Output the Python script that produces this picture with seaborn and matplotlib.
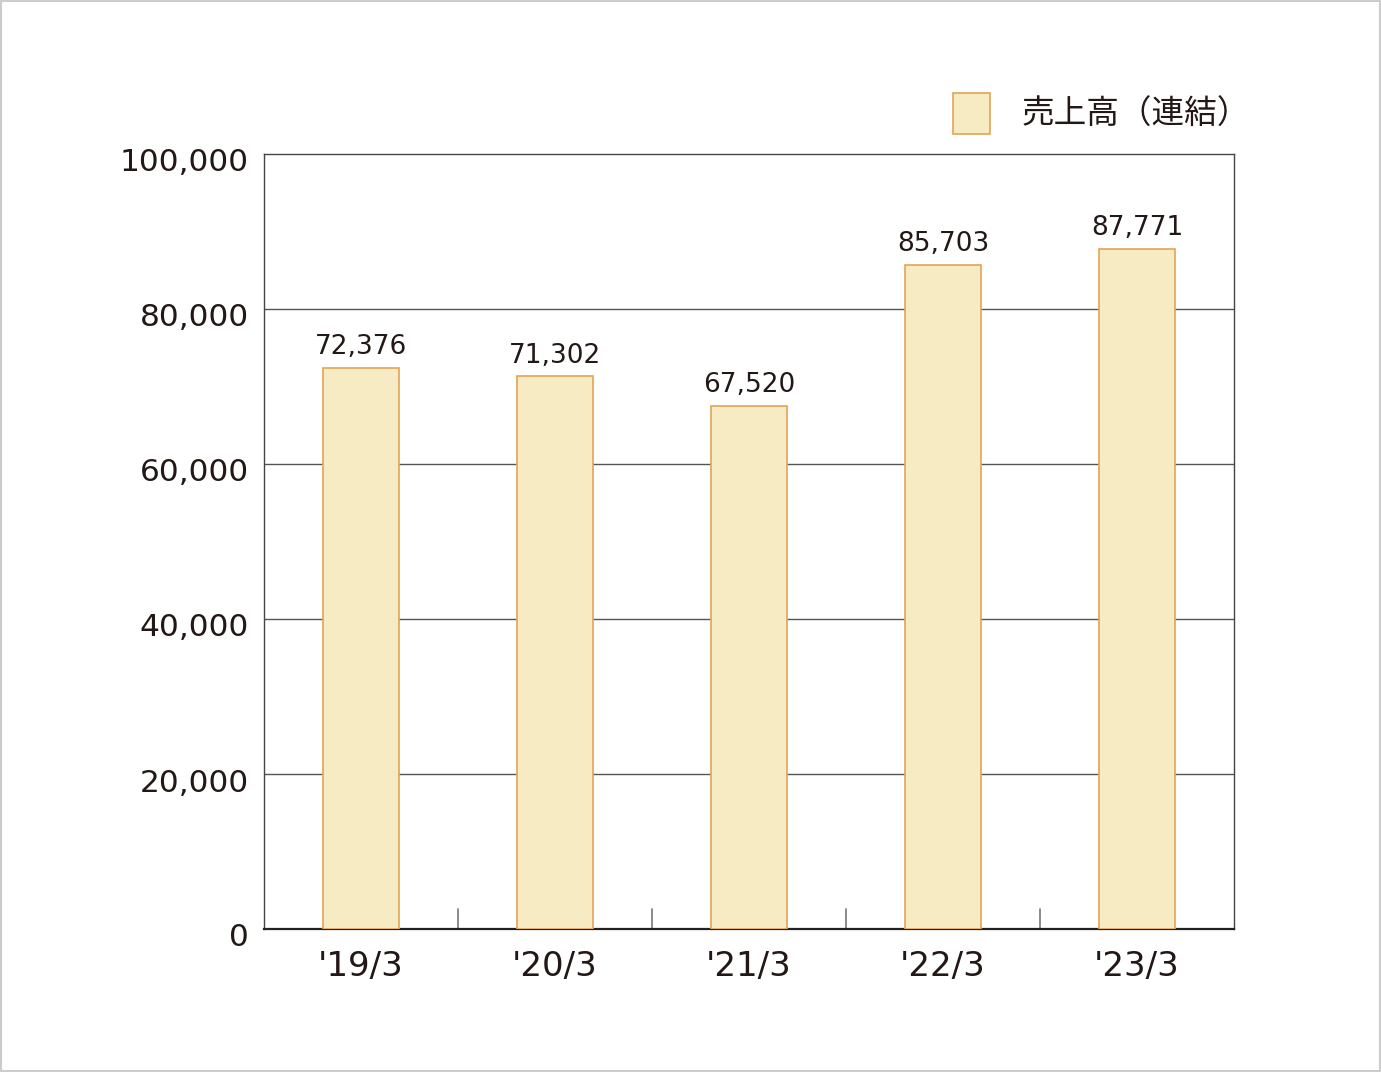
import matplotlib
matplotlib.use("Agg")
import matplotlib.pyplot as plt
import matplotlib.transforms as mtransforms
import seaborn as sns
import pandas as pd
from matplotlib.patches import Patch

categories = ["'19/3", "'20/3", "'21/3", "'22/3", "'23/3"]
values = [72376, 71302, 67520, 85703, 87771]
yticks = [0, 20000, 40000, 60000, 80000, 100000]
legend_label = "売上高（連結）"

sns.set_theme(style="white")
plt.rcParams['font.family'] = ['DejaVu Sans', 'Noto Sans CJK JP']

TXT = "#231815"
FILL = "#F7EBC3"
EDGE = "#E3A455"

df = pd.DataFrame({"cat": categories, "val": values})

fig = plt.figure(figsize=(13.81, 10.72), dpi=100)
ax = fig.add_axes([264/1381, 1 - 929/1072, (1234-264)/1381, (929-154)/1072])

sns.barplot(data=df, x="cat", y="val", ax=ax, color=FILL, width=0.39,
            edgecolor=EDGE, linewidth=1.2, saturation=1, zorder=3)

ax.set_ylim(0, 100000)
ax.set_xlim(-0.5, len(categories) - 0.5)
ax.set_yticks(yticks)
ax.set_yticklabels([f"{v:,}" for v in yticks], fontsize=22.5, color=TXT)
ax.set_xticks(range(len(categories)))
ax.set_xticklabels(categories, fontsize=24.5, color=TXT)
ax.tick_params(axis='y', length=0, pad=10.8)
ax.tick_params(axis='x', length=0, pad=15)
ax.set_xlabel("")
ax.set_ylabel("")

shift = mtransforms.ScaledTranslation(0, -6/100, fig.dpi_scale_trans)
for lab in ax.get_yticklabels():
    lab.set_transform(lab.get_transform() + shift)

for y in yticks[1:-1]:
    ax.axhline(y, color="#555555", linewidth=1, zorder=1)

# inward separator ticks between categories
for i in range(len(categories) - 1):
    ax.plot([i + 0.5, i + 0.5], [0, 2600], color="#777777", linewidth=1.2, zorder=2)

for s in ax.spines.values():
    s.set_color("#444444")
    s.set_linewidth(1)
ax.spines['bottom'].set_color("#222222")
ax.spines['bottom'].set_linewidth(1.6)

for i, v in enumerate(values):
    ax.text(i, v + 1000, f"{v:,}", ha="center", va="bottom", fontsize=19, color=TXT)

fig.legend(handles=[Patch(facecolor=FILL, edgecolor=EDGE, linewidth=1.2, label=legend_label)],
           loc="center left", bbox_to_anchor=(953/1381, 1 - 113.5/1072), frameon=False,
           prop={'family': ['Noto Sans CJK JP'], 'size': 23.5}, labelcolor=TXT,
           borderpad=0, borderaxespad=0,
           handlelength=1.13, handleheight=1.6, handletextpad=0.98)

# figure border
fig.patches.append(plt.Rectangle((0.0005, 0.0005), 0.999, 0.999, transform=fig.transFigure,
                                 fill=False, edgecolor="#CCCCCC", linewidth=1.5))

fig.savefig("out.png", dpi=100, facecolor="white")
